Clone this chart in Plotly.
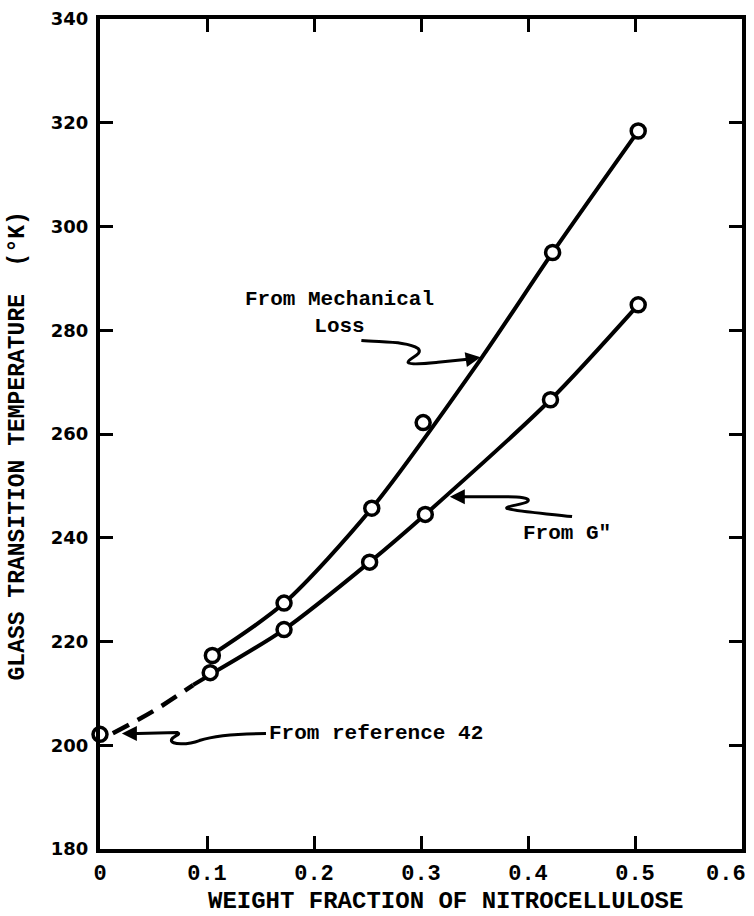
import plotly.graph_objects as go

# Measured glass transition temperatures (K) vs weight fraction of nitrocellulose
mech_x = [0.105, 0.172, 0.254, 0.302, 0.423, 0.503]
mech_y = [217.3, 227.4, 245.7, 262.2, 295.0, 318.4]
gpp_x = [0.103, 0.172, 0.252, 0.304, 0.421, 0.503]
gpp_y = [214.0, 222.3, 235.3, 244.5, 266.6, 284.9]
ref_x = [0.0]
ref_y = [202.1]

# Hand-drawn smooth curves through the data
mech_curve_x = [0.105, 0.172, 0.254, 0.356, 0.423, 0.503]
mech_curve_y = [217.5, 227.4, 245.7, 274.5, 295.0, 318.4]
gpp_curve_x = [0.087, 0.103, 0.172, 0.252, 0.304, 0.421, 0.503]
gpp_curve_y = [211.6, 213.6, 222.3, 235.3, 244.5, 266.6, 284.9]
extrap_x = [0.012, 0.05, 0.087]
extrap_y = [202.3, 206.6, 211.6]

x_ticks = [0, 0.1, 0.2, 0.3, 0.4, 0.5, 0.6]
x_tick_text = ["0", "0.1", "0.2", "0.3", "0.4", "0.5", "0.6"]
y_ticks = [180, 200, 220, 240, 260, 280, 300, 320, 340]

MONO = "Liberation Mono, Courier New, monospace"
SANS = "DejaVu Sans, Arial, sans-serif"
INK = "black"

# plot-area pixel geometry, used to place the hand-drawn callouts
L, R, T, B = 100, 746, 15, 849
XMIN, XMAX, YMIN, YMAX = 0.0, 0.6, 180.0, 340.0


def dx(px):
    return XMIN + (px - L) / (R - L) * (XMAX - XMIN)


def dy(py):
    return YMAX - (py - T) / (B - T) * (YMAX - YMIN)


def path(cmds):
    out = []
    for c in cmds:
        if isinstance(c, str):
            out.append(c)
        else:
            out.append(f"{dx(c[0]):.5f},{dy(c[1]):.4f}")
    return " ".join(out)


fig = go.Figure()

fig.add_trace(go.Scatter(x=mech_curve_x, y=mech_curve_y, mode="lines",
                         line=dict(color=INK, width=4, shape="spline", smoothing=0.8),
                         hoverinfo="skip", showlegend=False))
fig.add_trace(go.Scatter(x=gpp_curve_x, y=gpp_curve_y, mode="lines",
                         line=dict(color=INK, width=4, shape="spline", smoothing=0.8),
                         hoverinfo="skip", showlegend=False))
fig.add_trace(go.Scatter(x=extrap_x, y=extrap_y, mode="lines",
                         line=dict(color=INK, width=4.5, dash="18px,10px", shape="spline"),
                         hoverinfo="skip", showlegend=False))

marker = dict(symbol="circle", size=14, color="white", line=dict(color=INK, width=3.5))
fig.add_trace(go.Scatter(x=mech_x, y=mech_y, mode="markers", marker=marker,
                         name="From Mechanical Loss", showlegend=False))
fig.add_trace(go.Scatter(x=gpp_x, y=gpp_y, mode="markers", marker=marker,
                         name='From G"', showlegend=False))
fig.add_trace(go.Scatter(x=ref_x, y=ref_y, mode="markers", marker=marker,
                         name="From reference 42", showlegend=False, cliponaxis=False))

# squiggly leader lines of the callouts
squiggles = [
    ["M", (363, 338), "C", (385, 340), (410, 339), (420, 346),
     "C", (426, 352), (410, 356), (410, 360),
     "C", (412, 363), (430, 361), (440, 360), "L", (470, 357)],
    ["M", (575, 515), "C", (550, 512), (520, 510), (510, 507),
     "C", (505, 505), (525, 503), (530, 500),
     "C", (535, 496), (520, 495), (510, 495), "L", (466, 495)],
    ["M", (267, 733), "C", (240, 733), (215, 735), (200, 740),
     "C", (190, 744), (170, 745), (172, 739),
     "C", (174, 735), (182, 734), (178, 732), "L", (138, 733)],
]
for s in squiggles:
    fig.add_shape(type="path", path=path(s), xref="x", yref="y",
                  line=dict(color=INK, width=3))

# arrowheads at the ends of the leaders
for (x0, y0), (x1, y1) in [((466, 357.5), (483, 355)),
                           ((468, 495), (452, 495)),
                           ((140, 733), (122, 733))]:
    fig.add_annotation(x=dx(x1), y=dy(y1), ax=dx(x0), ay=dy(y0),
                       xref="x", yref="y", axref="x", ayref="y",
                       text="", showarrow=True, arrowhead=2, arrowsize=1.0,
                       arrowwidth=3, arrowcolor=INK)

label_font = dict(family=MONO, size=21, color=INK, weight="bold")
fig.add_annotation(x=dx(341), y=dy(310), xref="x", yref="y",
                   text="From Mechanical<br>Loss", showarrow=False,
                   font=label_font, align="center")
fig.add_annotation(x=dx(524), y=dy(532), xref="x", yref="y",
                   text='From G"', showarrow=False, font=label_font,
                   xanchor="left")
fig.add_annotation(x=dx(268), y=dy(733), xref="x", yref="y",
                   text="From reference 42", showarrow=False, font=label_font,
                   xanchor="left")

# axis titles
fig.add_annotation(x=(448 - L) / (R - L), y=(B - 902) / (B - T),
                   xref="paper", yref="paper", xanchor="center", yanchor="middle",
                   showarrow=False,
                   text="WEIGHT FRACTION OF NITROCELLULOSE",
                   font=dict(family=MONO, size=24, color=INK, weight="bold"))
fig.add_annotation(x=(17 - L) / (R - L), y=(B - 444) / (B - T),
                   xref="paper", yref="paper", xanchor="center", yanchor="middle",
                   showarrow=False, textangle=-90,
                   text="GLASS TRANSITION TEMPERATURE\u00a0\u00a0(\u00b0K)",
                   font=dict(family=MONO, size=23, color=INK, weight="bold"))

x_tick_font = dict(family=MONO, size=22, color=INK, weight="bold")

# the last x label sits flush against the right edge, left of its tick
fig.add_annotation(x=(752 - L) / (R - L), y=(B - 875) / (B - T),
                   xref="paper", yref="paper", xanchor="right", yanchor="middle",
                   showarrow=False, text=x_tick_text[-1], font=x_tick_font)

axis_common = dict(showline=True, linecolor=INK, linewidth=4, mirror="ticks",
                   ticks="inside", ticklen=13, tickwidth=3, tickcolor=INK,
                   showgrid=False, zeroline=False)

fig.update_xaxes(range=[XMIN, XMAX], tickvals=x_ticks,
                 ticktext=x_tick_text[:-1] + [""],
                 tickfont=x_tick_font, ticklabelstandoff=1, **axis_common)
fig.update_yaxes(range=[YMIN, YMAX], tickvals=y_ticks,
                 tickfont=dict(family=SANS, size=18, color=INK, weight="bold"),
                 ticklabelstandoff=4, **axis_common)

fig.update_layout(width=754, height=916, autosize=False,
                  margin=dict(l=L, r=754 - R, t=T, b=916 - B),
                  plot_bgcolor="white", paper_bgcolor="white", showlegend=False)

fig.write_html("out.html")
